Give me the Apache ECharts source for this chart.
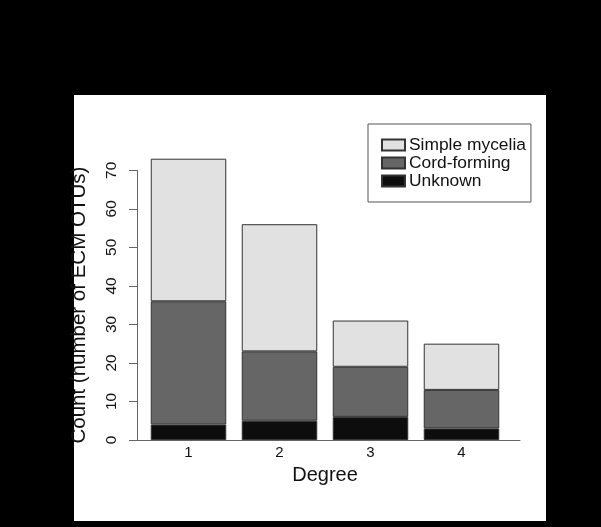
<!DOCTYPE html>
<html>
<head>
<meta charset="utf-8">
<script src="https://cdn.jsdelivr.net/npm/echarts@6/dist/echarts.min.js"></script>
<style>html,body{margin:0;padding:0;background:#000}#c{width:601px;height:527px}</style>
</head>
<body>
<div id="c"></div>
<script>
var categories = ['1', '2', '3', '4'];
var unknown = [4, 5, 6, 3];
var cordForming = [32, 18, 13, 10];
var simpleMycelia = [37, 33, 12, 12];
var yTicksMax = 70;
var FONT = "'Liberation Sans', Arial, sans-serif";

var chart = echarts.init(document.getElementById('c'), null, {renderer: 'canvas'});
var barBorder = {borderColor: '#333', borderWidth: 1};
chart.setOption({
  backgroundColor: '#000',
  animation: false,
  graphic: [{
    type: 'rect', z: -10, silent: true,
    shape: {x: 74, y: 95, width: 472, height: 426},
    style: {fill: '#fff'}
  }],
  legend: {
    orient: 'vertical',
    left: 368, top: 124,
    padding: [12, 5, 12, 13],
    borderColor: '#555', borderWidth: 1,
    itemWidth: 23, itemHeight: 11, itemGap: 0,
    icon: 'rect',
    data: ['Simple mycelia', 'Cord-forming', 'Unknown'],
    textStyle: {fontFamily: FONT, fontSize: 17.4, color: '#111', lineHeight: 18, padding: [0, 0, 0, -1]}
  },
  grid: [
    {left: 143, right: 94, top: 151, bottom: 87},
    {left: 137, right: 81, top: 170.3, bottom: 87}
  ],
  xAxis: [{
    gridIndex: 0, type: 'category', data: categories,
    axisLine: {show: false}, axisTick: {show: false},
    axisLabel: {fontFamily: FONT, fontSize: 15, color: '#111', margin: 5},
    name: 'Degree', nameLocation: 'middle', nameGap: 25,
    nameTextStyle: {fontFamily: FONT, fontSize: 20, color: '#111'}
  }, {
    gridIndex: 1, type: 'value', min: 0, max: 1,
    axisLine: {show: true, lineStyle: {color: '#666', width: 1}},
    axisTick: {show: false}, axisLabel: {show: false}, splitLine: {show: false}
  }],
  yAxis: [{
    gridIndex: 0, type: 'value', min: 0, max: 75, show: false
  }, {
    gridIndex: 1, type: 'value', min: 0, max: yTicksMax, interval: 10,
    axisLine: {show: true, lineStyle: {color: '#666', width: 1}},
    axisTick: {show: true, length: 8, lineStyle: {color: '#666'}},
    axisLabel: {fontFamily: FONT, fontSize: 15.5, color: '#111', rotate: 90, margin: 17},
    splitLine: {show: false},
    name: 'Count (number of ECM OTUs)', nameLocation: 'middle', nameGap: 47,
    nameTextStyle: {fontFamily: FONT, fontSize: 20.5, color: '#111'}
  }],
  series: [
    {name: 'Unknown', type: 'bar', stack: 's', xAxisIndex: 0, yAxisIndex: 0, barWidth: '83%',
     data: unknown, itemStyle: Object.assign({color: '#0d0d0d'}, barBorder)},
    {name: 'Cord-forming', type: 'bar', stack: 's', xAxisIndex: 0, yAxisIndex: 0, barWidth: '83%',
     data: cordForming, itemStyle: Object.assign({color: '#666666'}, barBorder)},
    {name: 'Simple mycelia', type: 'bar', stack: 's', xAxisIndex: 0, yAxisIndex: 0, barWidth: '83%',
     data: simpleMycelia, itemStyle: Object.assign({color: '#e1e1e1'}, barBorder)}
  ]
});
</script>
</body>
</html>
